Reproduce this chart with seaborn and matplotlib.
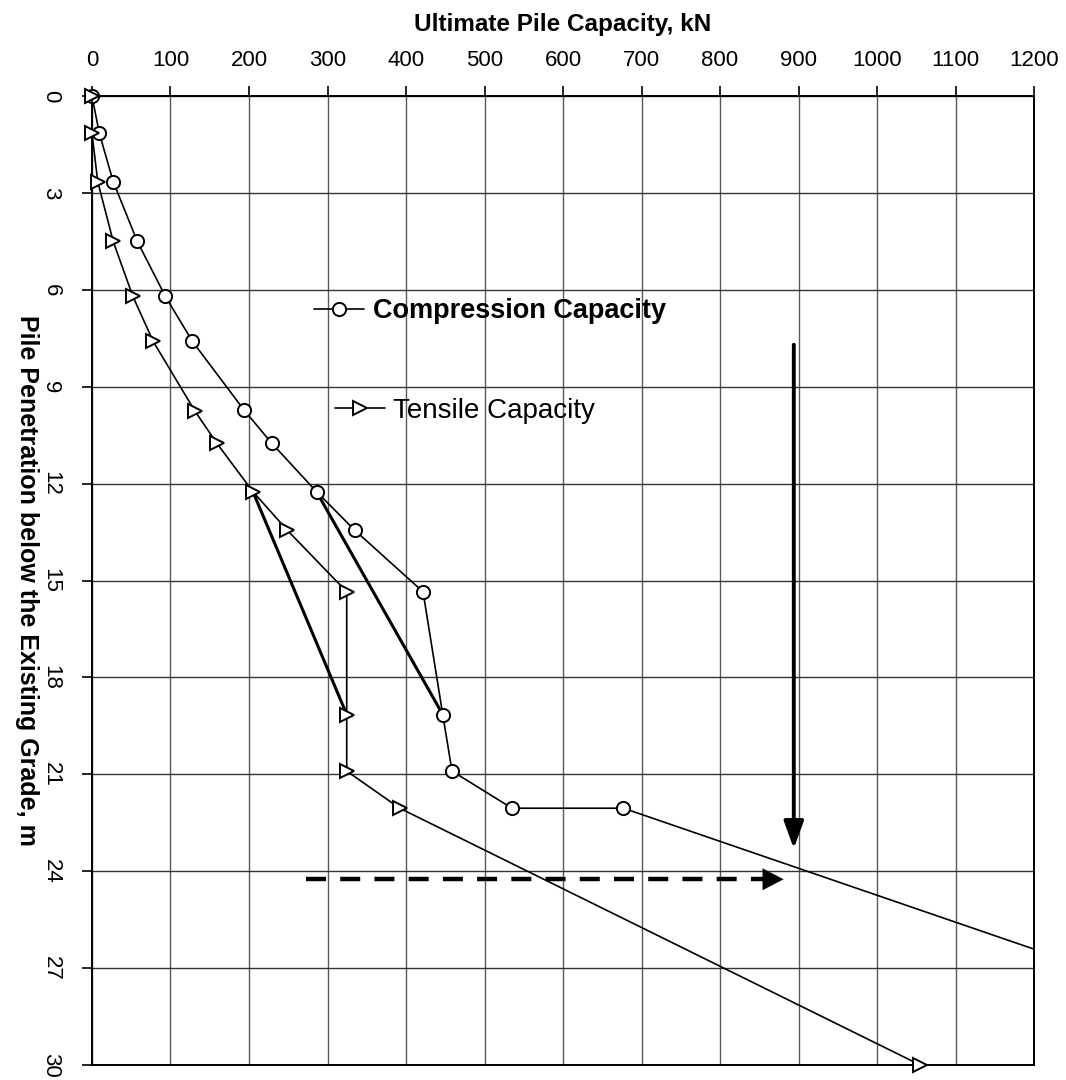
import numpy as np
import matplotlib
matplotlib.use("Agg")
import matplotlib.pyplot as plt
import seaborn as sns
from matplotlib.lines import Line2D

sns.set_style("white")
plt.rcParams["font.family"] = ["Liberation Sans", "DejaVu Sans"]
plt.rcParams.update({"text.color": "black", "axes.labelcolor": "black",
                     "xtick.color": "black", "ytick.color": "black"})

# ---- data ----------------------------------------------------------------
comp_depth = np.array([0, 1.15, 2.65, 4.5, 6.2, 7.6, 9.72, 10.75, 12.25, 13.45,
                       15.35, 19.15, 20.9, 22.05, 22.05, 30])
comp_kn = np.array([0, 9.3, 27, 57.7, 93.4, 128, 193.6, 229, 286, 335,
                    421.7, 446.8, 458.6, 535, 677, 1630])

tens_depth = np.array([0, 1.15, 2.65, 4.5, 6.2, 7.6, 9.75, 10.75, 12.25, 13.45,
                       15.35, 19.15, 20.9, 22.05, 30])
tens_kn = np.array([0, 0, 7.3, 27, 52, 78, 131, 159, 205, 249,
                    324.5, 324.5, 324.5, 392, 1055])

x_ticks = np.arange(0, 1201, 100)
y_ticks = np.arange(0, 31, 3)

# annotation arrows (kN, m)
down_arrow = {"x": 894, "start": 7.7, "end": 23.3}
side_arrow = {"y": 24.25, "start": 273, "end": 881}

# ---- figure ----------------------------------------------------------------
fig = plt.figure(figsize=(10.66, 10.8), dpi=100)
ax = fig.add_axes([0.0863, 0.0139, 0.8837, 0.8972])

ax.set_xlim(0, 1200)
ax.set_ylim(30, 0)
ax.set_xticks(x_ticks)
ax.set_yticks(y_ticks)
ax.xaxis.tick_top()
ax.xaxis.set_label_position("top")

for xv in x_ticks:
    ax.axvline(xv, color="#5a5a5a", lw=1.0, zorder=0)
for yv in y_ticks:
    ax.axhline(yv, color="#333333", lw=1.0, zorder=0)

# compression: line clipped by the frame, markers drawn unclipped
sns.lineplot(x=comp_kn, y=comp_depth, estimator=None, sort=False,
             color="black", lw=1.2, ax=ax, zorder=3)
inside = comp_kn <= 1200
ax.plot(comp_kn[inside], comp_depth[inside], ls="none", marker="o", ms=9.5,
        mfc="white", mec="black", mew=1.4, clip_on=False, zorder=5)

sns.lineplot(x=tens_kn, y=tens_depth, estimator=None, sort=False,
             color="black", lw=1.2, marker=">", markersize=10.5,
             markerfacecolor="white", markeredgecolor="black", markeredgewidth=1.4,
             clip_on=False, ax=ax, zorder=6)

# thick guide lines joining the 12.25 m and 19.15 m points
ax.plot([tens_kn[8], tens_kn[11]], [tens_depth[8], tens_depth[11]],
        color="black", lw=2.2, zorder=4)
ax.plot([comp_kn[8], comp_kn[11]], [comp_depth[8], comp_depth[11]],
        color="black", lw=2.2, zorder=4)

ax.annotate("", xy=(down_arrow["x"], down_arrow["end"]),
            xytext=(down_arrow["x"], down_arrow["start"]),
            arrowprops=dict(arrowstyle="-|>,head_length=0.55,head_width=0.2",
                            lw=2.8, color="black",
                            mutation_scale=30, shrinkA=0, shrinkB=0), zorder=7)
# dashed shaft, solid head
ax.plot([side_arrow["start"], side_arrow["end"] - 15], [side_arrow["y"]] * 2,
        color="black", lw=3.2, ls=(0, (4.5, 3.2)), zorder=7)
ax.annotate("", xy=(side_arrow["end"], side_arrow["y"]),
            xytext=(side_arrow["end"] - 40, side_arrow["y"]),
            arrowprops=dict(arrowstyle="-|>,head_length=0.5,head_width=0.26",
                            lw=0.1, color="black",
                            mutation_scale=30, shrinkA=0, shrinkB=0), zorder=7)

# legend entries placed separately, as in the original
h_comp = Line2D([], [], color="black", lw=1.2, marker="o", ms=9.5,
                mfc="white", mec="black", mew=1.4)
h_tens = Line2D([], [], color="black", lw=1.2, marker=">", ms=10.5,
                mfc="white", mec="black", mew=1.4)
leg1 = ax.legend([h_comp], ["Compression Capacity"], loc="center left",
                 bbox_to_anchor=(0.236, 0.778), frameon=False, borderpad=0,
                 borderaxespad=0, handlelength=1.85, handletextpad=0.3,
                 prop={"weight": "bold", "size": 19.5})
ax.add_artist(leg1)
ax.legend([h_tens], ["Tensile Capacity"], loc="center left",
          bbox_to_anchor=(0.258, 0.675), frameon=False, borderpad=0,
          borderaxespad=0, handlelength=1.8, handletextpad=0.3,
          prop={"size": 20})

ax.set_xlabel("Ultimate Pile Capacity, kN", fontsize=17.5, fontweight="bold", labelpad=14)
ax.set_ylabel("Pile Penetration below the Existing Grade, m", fontsize=18,
              fontweight="bold", rotation=-90, labelpad=18, va="bottom")

ax.tick_params(axis="x", top=True, bottom=False, length=7, width=1.2,
               labelsize=16, pad=11, direction="out")
ax.tick_params(axis="y", left=True, length=7, width=1.2, labelsize=16,
               pad=15, labelrotation=-90, direction="out")
for lab in ax.get_yticklabels():
    lab.set_va("center")

for sp in ax.spines.values():
    sp.set_visible(True)
    sp.set_color("black")
    sp.set_linewidth(1.4)

fig.savefig("out.png", dpi=100)
